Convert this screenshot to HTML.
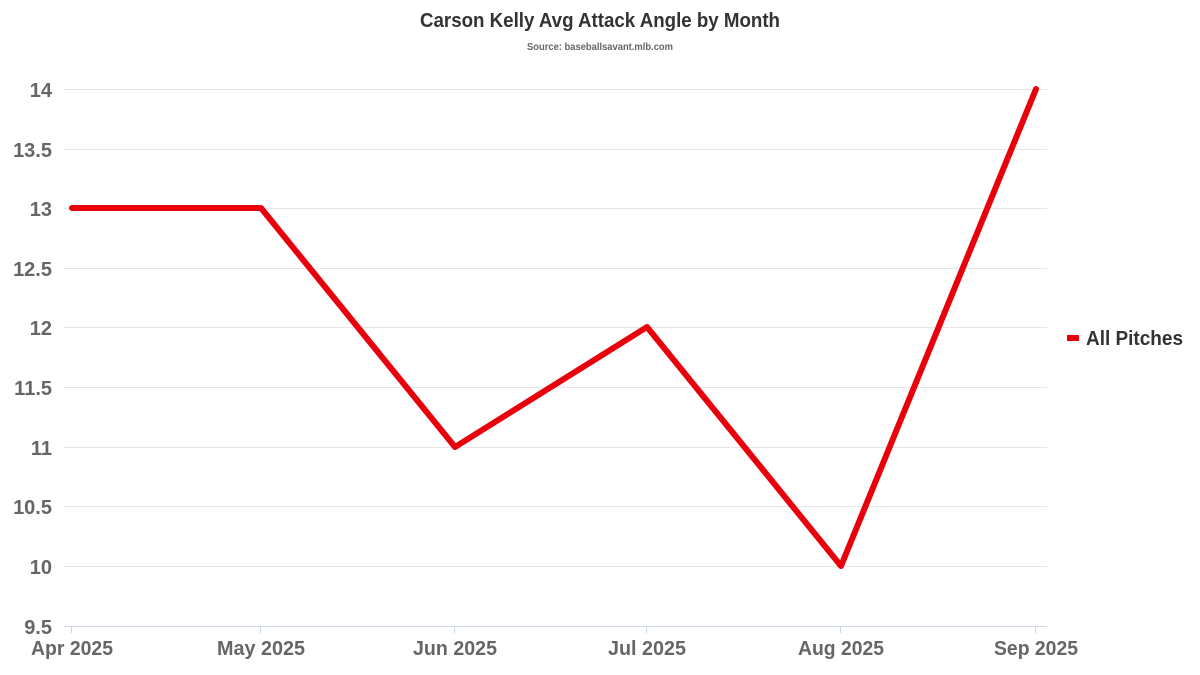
<!DOCTYPE html>
<html><head><meta charset="utf-8"><style>
html,body{margin:0;padding:0;background:#fff;}
svg{display:block;font-family:"Liberation Sans Narrow","Liberation Sans",sans-serif;font-weight:bold;}
</style></head><body>
<svg width="1200" height="675" viewBox="0 0 1200 675" xmlns="http://www.w3.org/2000/svg">
<rect width="1200" height="675" fill="#fff"/>
<text x="600" y="27" text-anchor="middle" font-size="20" fill="#333" textLength="360" lengthAdjust="spacingAndGlyphs">Carson Kelly Avg Attack Angle by Month</text>
<text x="600" y="50" text-anchor="middle" font-size="10" fill="#666" textLength="146" lengthAdjust="spacingAndGlyphs">Source: baseballsavant.mlb.com</text>
<g stroke="#e6e6e6" stroke-width="1">
<line x1="64" x2="1047" y1="89.5" y2="89.5"/>
<line x1="64" x2="1047" y1="149.5" y2="149.5"/>
<line x1="64" x2="1047" y1="208.5" y2="208.5"/>
<line x1="64" x2="1047" y1="268.5" y2="268.5"/>
<line x1="64" x2="1047" y1="327.5" y2="327.5"/>
<line x1="64" x2="1047" y1="387.5" y2="387.5"/>
<line x1="64" x2="1047" y1="447.5" y2="447.5"/>
<line x1="64" x2="1047" y1="506.5" y2="506.5"/>
<line x1="64" x2="1047" y1="566.5" y2="566.5"/>
</g>
<line x1="64" x2="1047" y1="626.5" y2="626.5" stroke="#ccd6eb"/>
<g stroke="#ccd6eb">
<line x1="71.5" x2="71.5" y1="626" y2="633"/>
<line x1="260.5" x2="260.5" y1="626" y2="633"/>
<line x1="454.5" x2="454.5" y1="626" y2="633"/>
<line x1="646.5" x2="646.5" y1="626" y2="633"/>
<line x1="840.5" x2="840.5" y1="626" y2="633"/>
<line x1="1035.5" x2="1035.5" y1="626" y2="633"/>
</g>
<g font-size="20" fill="#666" text-anchor="end">
<text x="52" y="97">14</text>
<text x="52" y="157">13.5</text>
<text x="52" y="216">13</text>
<text x="52" y="276">12.5</text>
<text x="52" y="335">12</text>
<text x="52" y="395">11.5</text>
<text x="52" y="455">11</text>
<text x="52" y="514">10.5</text>
<text x="52" y="574">10</text>
<text x="52" y="634">9.5</text>
</g>
<g font-size="20" fill="#666" text-anchor="middle">
<text x="72" y="655" textLength="82" lengthAdjust="spacingAndGlyphs">Apr 2025</text>
<text x="261" y="655" textLength="88" lengthAdjust="spacingAndGlyphs">May 2025</text>
<text x="455" y="655" textLength="84" lengthAdjust="spacingAndGlyphs">Jun 2025</text>
<text x="647" y="655" textLength="78" lengthAdjust="spacingAndGlyphs">Jul 2025</text>
<text x="841" y="655" textLength="86" lengthAdjust="spacingAndGlyphs">Aug 2025</text>
<text x="1036" y="655" textLength="84" lengthAdjust="spacingAndGlyphs">Sep 2025</text>
</g>
<polyline points="72,208 261,208 455,447 647,327 841,566 1036,89" fill="none" stroke="#e8000b" stroke-width="6" stroke-linejoin="round" stroke-linecap="round"/>
<line x1="1067" x2="1079" y1="338" y2="338" stroke="#e8000b" stroke-width="6"/>
<text x="1086" y="345" font-size="20" fill="#333" textLength="97" lengthAdjust="spacingAndGlyphs">All Pitches</text>
</svg>
</body></html>
